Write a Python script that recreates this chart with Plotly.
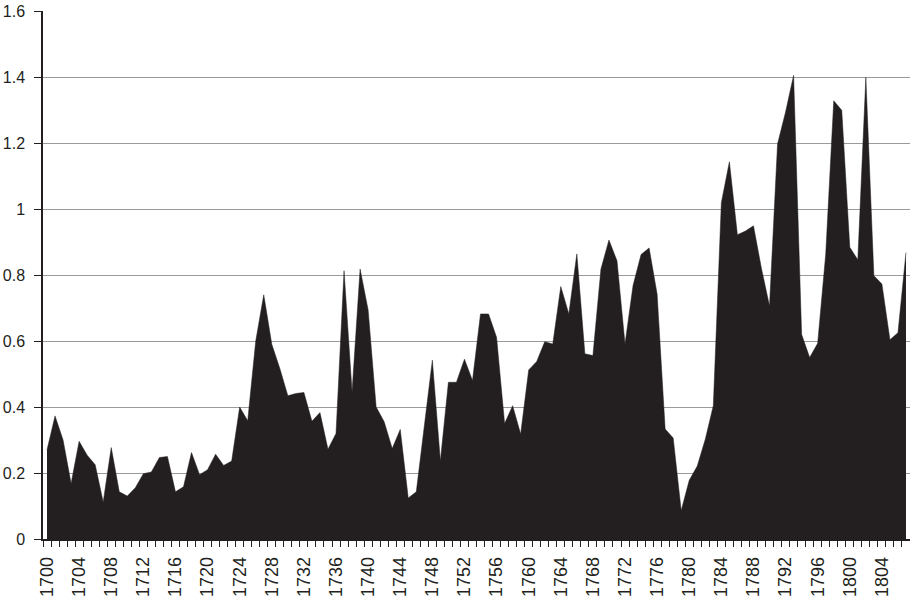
import plotly.graph_objs as go

years = list(range(1700, 1808))

values = [0.27, 0.373, 0.30, 0.168, 0.296, 0.254, 0.225, 0.112, 0.277, 0.143,
          0.13, 0.155, 0.198, 0.203, 0.247, 0.25, 0.143, 0.158, 0.262, 0.195,
          0.21, 0.257, 0.223, 0.236, 0.40, 0.358, 0.60, 0.74, 0.59, 0.517,
          0.434, 0.441, 0.444, 0.357, 0.383, 0.272, 0.32, 0.813, 0.446, 0.818,
          0.694, 0.40, 0.355, 0.274, 0.332, 0.124, 0.143, 0.34, 0.542, 0.236,
          0.475, 0.475, 0.545, 0.48, 0.682, 0.682, 0.611, 0.35, 0.404, 0.318,
          0.512, 0.538, 0.598, 0.591, 0.765, 0.682, 0.864, 0.561, 0.556, 0.818,
          0.906, 0.843, 0.591, 0.768, 0.862, 0.882, 0.742, 0.333, 0.306, 0.086,
          0.178, 0.221, 0.302, 0.404, 1.019, 1.143, 0.922, 0.933, 0.949, 0.819,
          0.706, 1.197, 1.294, 1.405, 0.62, 0.55, 0.593, 0.863, 1.328, 1.299,
          0.884, 0.846, 1.399, 0.798, 0.773, 0.604, 0.625, 0.868]

x_labels = list(range(1700, 1808, 4))
y_ticks = [0, 0.2, 0.4, 0.6, 0.8, 1.0, 1.2, 1.4, 1.6]
y_labels = ['0', '0.2', '0.4', '0.6', '0.8', '1', '1.2', '1.4', '1.6']

FILL = '#231f20'
FONT_FAMILY = 'Liberation Sans, Arial, sans-serif'

trace = go.Scatter(x=years, y=values, mode='lines', fill='tozeroy',
                   fillcolor=FILL, line={'color': FILL, 'width': 0.5},
                   hoverinfo='x+y')

layout = go.Layout(
    width=910, height=598,
    margin={'l': 43, 'r': 0, 't': 11, 'b': 59},
    paper_bgcolor='white', plot_bgcolor='white',
    showlegend=False,
    font={'family': FONT_FAMILY, 'size': 17, 'color': '#231f20'},
    xaxis={'range': [1699.5, 1807.5], 'automargin': False,
           'tickmode': 'array', 'tickvals': x_labels,
           'ticktext': [str(v) for v in x_labels],
           'tickfont': {'size': 18},
           'tickangle': -90, 'ticks': '', 'ticklabelstandoff': 9,
           'showgrid': False, 'zeroline': False,
           'showline': True, 'linecolor': '#231f20', 'linewidth': 1.5,
           'minor': {'tickmode': 'linear', 'tick0': 1699.5, 'dtick': 1,
                     'ticks': 'outside', 'ticklen': 6, 'tickcolor': '#231f20',
                     'tickwidth': 1, 'showgrid': False}},
    yaxis={'range': [0, 1.6], 'automargin': False,
           'tickmode': 'array', 'tickvals': y_ticks, 'ticktext': y_labels,
           'tickfont': {'size': 16},
           'ticks': 'outside', 'ticklen': 7, 'tickcolor': '#231f20', 'tickwidth': 1,
           'ticklabelstandoff': 6,
           'showgrid': True, 'gridcolor': '#9a9a9a', 'gridwidth': 1,
           'zeroline': False,
           'showline': True, 'linecolor': '#231f20', 'linewidth': 1.5},
)

fig = go.Figure(data=[trace], layout=layout)
fig.write_html('out.html', config={'displayModeBar': False},
               post_script="document.body.style.margin='0';document.body.style.overflow='hidden';")
